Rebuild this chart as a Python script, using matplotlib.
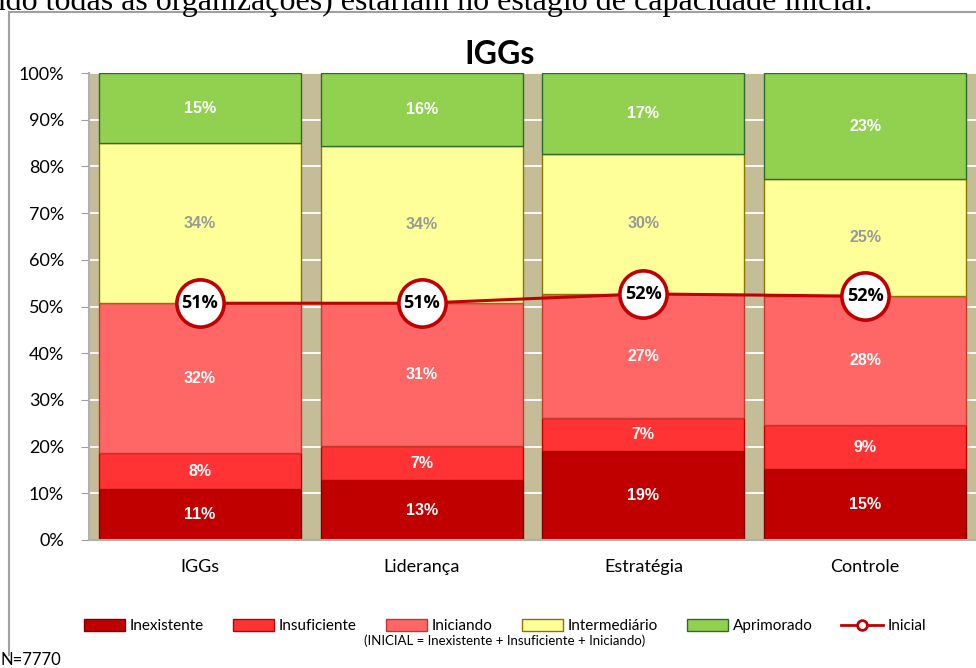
import numpy as np
import matplotlib
matplotlib.use("Agg")
import matplotlib.pyplot as plt
from matplotlib.lines import Line2D
from matplotlib.patches import Patch

# DATA (shares per dimension, in %)
categories = ["IGGs", "Liderança", "Estratégia", "Controle"]
inexistente = [10.9, 12.8, 19.1, 15.2]
insuficiente = [7.7, 7.3, 7.0, 9.4]
iniciando = [32.1, 30.6, 26.6, 27.6]
intermediario = [34.3, 33.7, 30.0, 25.1]
aprimorado = [15.0, 15.6, 17.3, 22.7]
inicial = [50.7, 50.7, 52.7, 52.2]
inicial_labels = ["51%", "51%", "52%", "52%"]
yticks = [0, 10, 20, 30, 40, 50, 60, 70, 80, 90, 100]

series = [
    ("Inexistente", inexistente, "#C00000", "#7F0000", "white"),
    ("Insuficiente", insuficiente, "#FF3333", "#C00000", "white"),
    ("Iniciando", iniciando, "#FF6666", "#C0392B", "white"),
    ("Intermediário", intermediario, "#FFFF99", "#8B7500", "#999999"),
    ("Aprimorado", aprimorado, "#92D050", "#2E6B2E", "white"),
]

fig = plt.figure(figsize=(9.76, 6.68), dpi=100)
ax = fig.add_axes([89 / 976, 1 - 540 / 668, 887 / 976, 467 / 668])
ax.set_facecolor("#C4BD97")

x = np.arange(len(categories))
bottom = np.zeros(len(categories))
for name, vals, fc, ec, tc in series:
    vals = np.array(vals)
    ax.bar(x, vals, width=0.91, bottom=bottom, color=fc, edgecolor=ec,
           linewidth=1.0, zorder=2)
    for xi, b, v in zip(x, bottom, vals):
        ax.text(xi, b + v / 2, f"{round(v):d}%", ha="center", va="center",
                color=tc, fontsize=11.5, fontweight="bold",
                family="Liberation Sans", zorder=5)
    bottom += vals

# Inicial line with circled labels
ax.plot(x, inicial, color="#C00000", lw=2.2, marker="o", markersize=34,
        markerfacecolor="white", markeredgecolor="#C00000",
        markeredgewidth=2.6, zorder=6)
for xi, v, lab in zip(x, inicial, inicial_labels):
    ax.text(xi, v, lab, ha="center", va="center", fontsize=13,
            fontweight="bold", family="Open Sans", color="black", zorder=7)

ax.set_xlim(-0.5, 3.5)
ax.set_ylim(0, 100)
ax.set_yticks(yticks)
ax.set_yticklabels([f"{t}%" for t in yticks], family="Lato", fontsize=13)
ax.set_xticks(x)
ax.set_xticklabels(categories, family="Lato", fontsize=13)
ax.tick_params(axis="x", length=0, pad=14)
ax.tick_params(axis="y", length=6, color="#A0A0A0", pad=12)
ax.yaxis.grid(True, color="white", lw=1.3, zorder=0)
ax.set_axisbelow(True)
for s in ["top", "right"]:
    ax.spines[s].set_visible(False)
for s in ["left", "bottom"]:
    ax.spines[s].set_color("#B0B0B0")
    ax.spines[s].set_linewidth(1.5)

# title
fig.text(500 / 976, 1 - 55 / 668, "IGGs", ha="center", va="center",
         fontsize=23, fontweight="bold", family="Lato")

# legend
handles = [Patch(facecolor=fc, edgecolor=ec, label=name)
           for name, vals, fc, ec, tc in series]
handles.append(Line2D([0], [0], color="#C00000", lw=2, marker="o",
                      markersize=7, markerfacecolor="white",
                      markeredgecolor="#C00000", markeredgewidth=2,
                      label="Inicial"))
leg = fig.legend(handles=handles, loc="center", ncol=6,
                 bbox_to_anchor=(505 / 976, 1 - 626 / 668), frameon=False,
                 prop={"family": "Lato", "size": 11}, handlelength=2.7,
                 handleheight=0.8, handletextpad=0.3, columnspacing=1.9)
fig.text(505 / 976, 1 - 641 / 668,
         "(INICIAL = Inexistente + Insuficiente + Iniciando)",
         ha="center", va="center", fontsize=9.5, family="Lato")

fig.text(1 / 976, 1 - 660 / 668, "N=7770", ha="left", va="center",
         fontsize=12, family="Lato")

# chart frame and cut-off document text above it
fig.add_artist(Line2D([9 / 976, 9 / 976], [1 - 655 / 668, 1 - 12 / 668],
                      color="#A0A0A0", lw=1.5))
fig.add_artist(Line2D([9 / 976, 1], [1 - 12 / 668, 1 - 12 / 668],
                      color="#A0A0A0", lw=1.5))
fig.text(872 / 976, 1 - 10 / 668,
         "sendo todas as organizações) estariam no estágio de capacidade inicial.",
         ha="right", va="baseline", fontsize=23, family="Liberation Serif")

fig.savefig("out.png", dpi=100)
